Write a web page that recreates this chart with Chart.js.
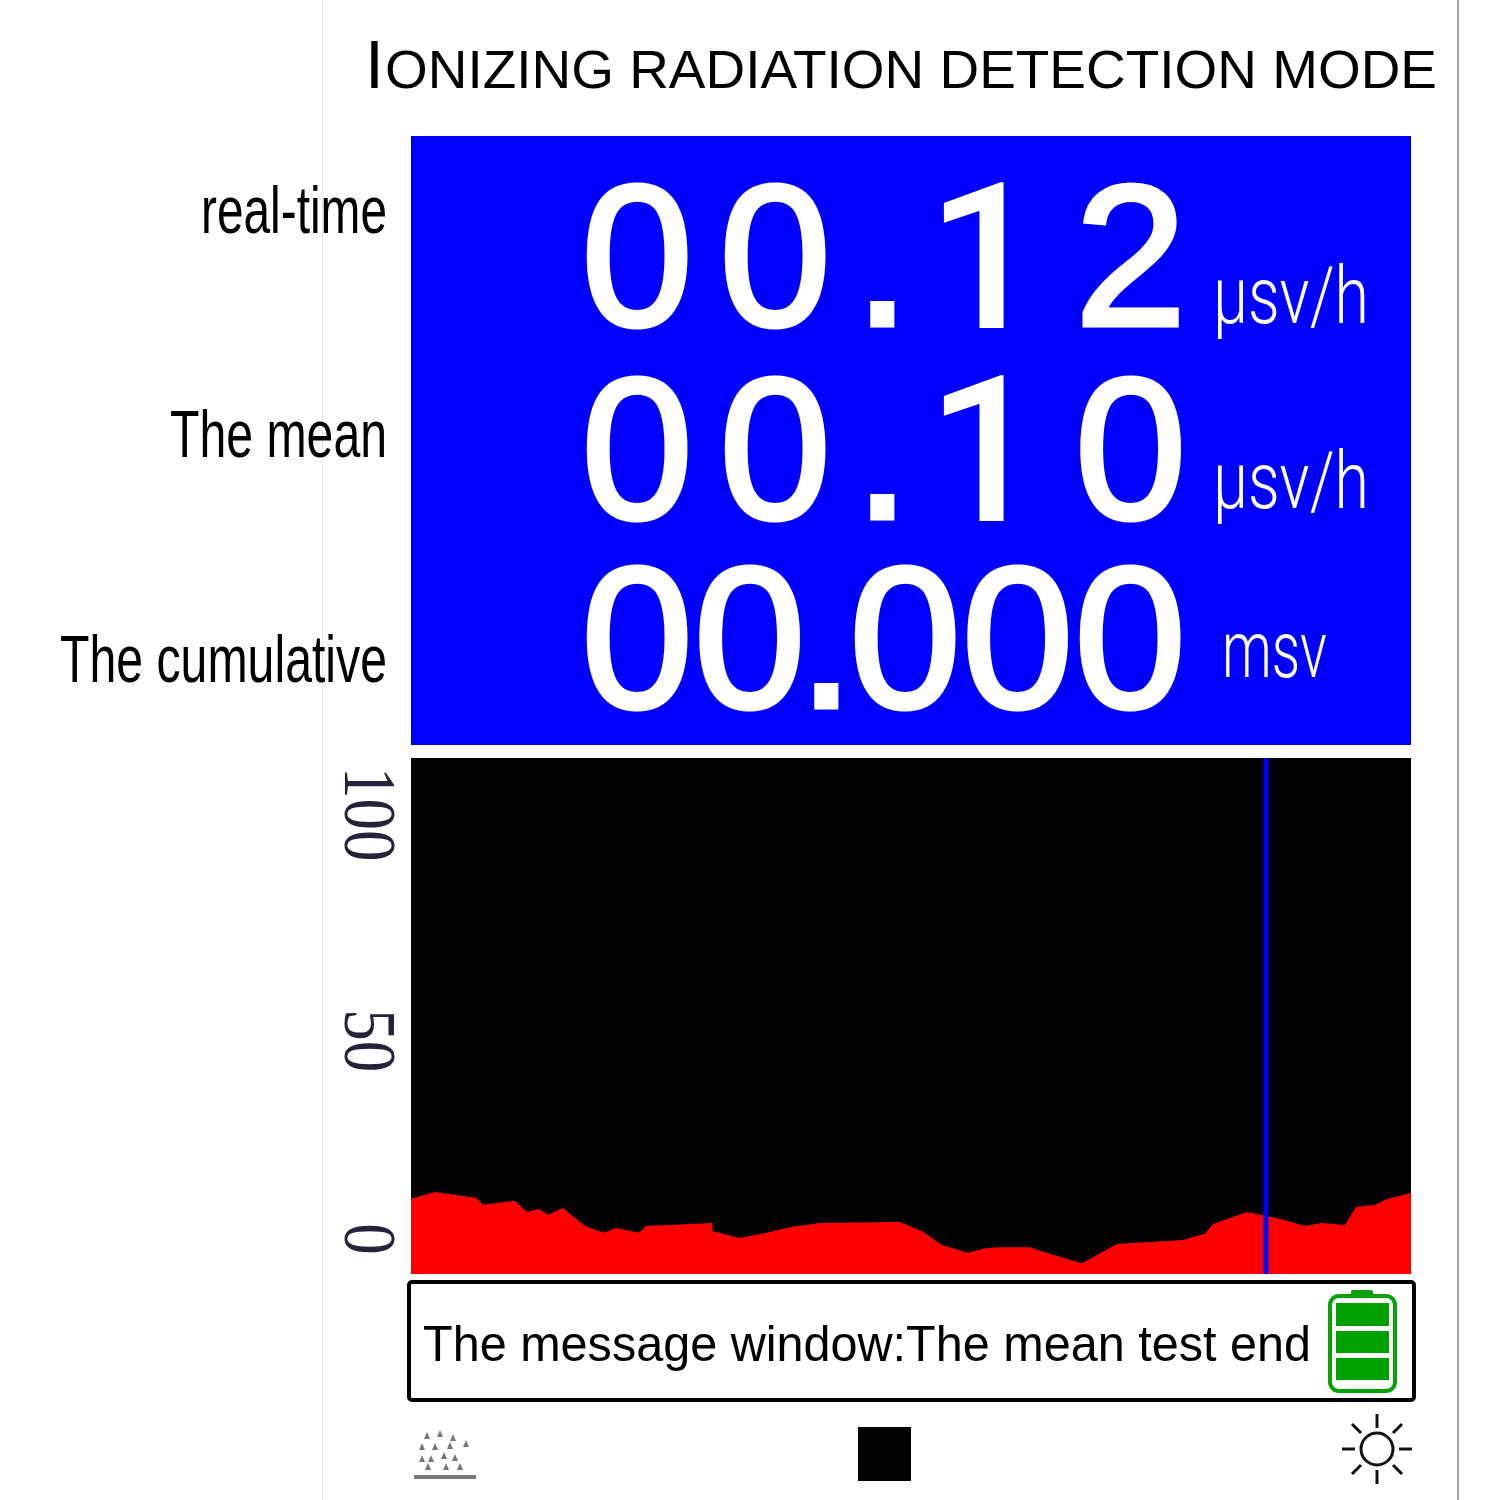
<!DOCTYPE html>
<html>
<head>
<meta charset="utf-8">
<title>Ionizing radiation detection mode</title>
<script src="https://cdn.jsdelivr.net/npm/chart.js@4"></script>
<style>
  html, body { margin: 0; padding: 0; background: #fff; }
  #page { position: relative; width: 1500px; height: 1500px; overflow: hidden; font-family: "Liberation Sans", sans-serif; }
  #page > * { position: absolute; }
  .txt { white-space: pre; line-height: 0; transform-origin: 0 0; }
  .big { -webkit-text-stroke: 5px #fff; }
  /* the digit 1 in Liberation has a foot, the display's does not */
  .one { font: 500 204px "Roboto"; line-height: 0; -webkit-text-stroke: 0; position: relative; top: 3px; margin-left: -10px; letter-spacing: 32px; }
  .dot { margin-left: -3px; }
  .dotTight { margin-left: -8px; letter-spacing: -4.6px; }
  #ruleL { left: 322px; top: 0; width: 1px; height: 1500px; background: #e6e6e6; }
  #ruleR { left: 1457px; top: 0; width: 2px; height: 1500px; background: #a8a8a8; }
  #panel { left: 411px; top: 136px; width: 1000px; height: 609px; background: #0000ff; }
  #msgbox { left: 407px; top: 1280px; width: 1001px; height: 114px; border: 4px solid #000; border-radius: 5px; background: #fff; }
  #stop { left: 858px; top: 1427px; width: 53px; height: 54px; background: #000; }
  #chart { left: 0; top: 0; }
  svg { left: 0; top: 0; }
</style>
</head>
<body>
<div id="page">
  <div id="ruleL"></div>
  <div id="ruleR"></div>
  <div id="panel"></div>
  <div id="msgbox"></div>
  <div id="stop"></div>
  <canvas id="chart" width="1500" height="1500"></canvas>
  <svg width="1500" height="1500" viewBox="0 0 1500 1500">
    <!-- battery -->
    <rect x="1330" y="1296" width="65" height="95" rx="9" fill="none" stroke="#0aa00a" stroke-width="4"/>
    <rect x="1351" y="1290" width="22" height="6" rx="2" fill="#0aa00a"/>
    <rect x="1336" y="1303" width="53" height="23" fill="#00a000"/>
    <rect x="1336" y="1331" width="53" height="22" fill="#00a000"/>
    <rect x="1336" y="1358" width="53" height="22" fill="#00a000"/>
    <!-- sun -->
    <g stroke="#111" stroke-width="3" fill="none" stroke-linecap="butt">
      <circle cx="1377" cy="1449" r="16"/>
      <path d="M1377 1414V1428M1377 1470V1484M1342 1449H1355M1399 1449H1412"/>
      <path d="M1352 1424L1361 1433M1393 1465L1402 1474M1402 1424L1393 1433M1361 1465L1352 1474"/>
    </g>
    <!-- particles -->
    <rect x="414" y="1475" width="62" height="4" fill="#777"/>
    <g fill="#777" id="drops"></g>
  </svg>
</div>
<script>
const titleHead = "I";
const titleRest = "ONIZING RADIATION DETECTION MODE";
const readingLabels = ["real-time", "The mean", "The cumulative"];
const readingValues = ["00.12", "00.10", "00.000"];
const readingUnits = ["\u00b5sv/h", "\u00b5sv/h", "msv"];
const messageText = "The message window:The mean test end";

// trace of the dose rate, x is the sweep position
const traceX = [0, 24, 52, 65, 72, 104, 116, 128, 137, 152, 174, 193, 205, 228, 235, 301, 302, 328, 356, 379, 409, 489,
  511, 531, 557, 574, 589, 619, 632, 671, 706, 772, 794, 802, 836, 869, 894, 911, 934, 945, 964, 977, 1000];
const traceY = [14.6, 15.9, 15.1, 14.8, 13.4, 14.2, 12.0, 12.6, 11.5, 12.8, 9.3, 8.0, 8.9, 8.0, 9.3, 9.9, 8.3, 7.0, 8.0, 9.1, 9.9, 10.1,
  8.3, 5.6, 4.1, 5.0, 5.2, 5.2, 4.3, 2.1, 5.8, 6.6, 7.8, 9.7, 12.0, 10.7, 9.3, 9.9, 9.5, 13.0, 13.4, 14.6, 15.7];
const cursorX = [855, 855];
const cursorY = [0, 100];
// the printed labels do not sit on their true values in the picture
const yTickPos = [6.8, 45.2, 89.1];
const yTickLabels = ["0", "50", "100"];

const page = document.getElementById("page");
// line-height 0 puts the baseline this far under the top, per font
const baseShift = { "Liberation Sans": 0.3465, "Roboto": 0.3555 };

// x is the left edge (or right edge if right is set), base is the baseline, width squeezes the text to fit
function addText(text, o) {
  const family = o.family || "Liberation Sans";
  const el = document.createElement("div");
  el.className = "txt";
  el.textContent = text;
  el.style.font = (o.weight || "normal") + " " + o.size + "px '" + family + "'";
  el.style.lineHeight = "0";
  el.style.color = o.color || "#000";
  if (o.spacing) el.style.letterSpacing = o.spacing + "px";
  el.style.top = (o.base - baseShift[family] * o.size) + "px";
  page.appendChild(el);
  const natural = el.getBoundingClientRect().width;
  const sx = o.width ? o.width / natural : 1;
  el.style.left = (o.right ? o.right - natural * sx : o.x) + "px";
  el.style.transform = "scaleX(" + sx + ")";
  return el;
}

addText(titleHead, { x: 365, base: 88, size: 68 });
addText(titleRest, { x: 385, base: 88, size: 53, width: 1052 });

const labelBase = [233, 457, 682];
const labelWidth = [186, 217, 327];
readingLabels.forEach((t, i) => addText(t, { right: 387, base: labelBase[i], size: 67, width: labelWidth[i] }));

// rows holding a Roboto 1 sit about 3px lower, so they start higher
const valueBase = [325, 518, 707];
const valueSpacing = [26.8, 26.8, 1.3];
const dotClass = ["dot", "dot", "dotTight"];
readingValues.forEach((t, i) => {
  const el = addText(t, { x: 581.5, base: valueBase[i], size: 200, color: "#fff", spacing: valueSpacing[i] });
  el.classList.add("big");
  el.innerHTML = t.replace(".", '<span class="' + dotClass[i] + '">.</span>').replace("1", '<span class="one">1</span>');
});

const unitBase = [324, 509, 678];
const unitLeft = [1213, 1213, 1222];
const unitWidth = [156, 156, 105];
readingUnits.forEach((t, i) => addText(t, {
  x: unitLeft[i], base: unitBase[i], size: 80, weight: "300", family: "Roboto", color: "#fff", width: unitWidth[i]
}));

addText(messageText, { x: 423, base: 1361, size: 50, width: 888 });

// little triangles of the particle icon
const drops = document.getElementById("drops");
[[427, 1436], [440, 1434], [453, 1438], [422, 1447], [435, 1447], [450, 1446], [466, 1444],
 [422, 1459], [431, 1459], [444, 1456], [455, 1458], [428, 1467], [446, 1467], [460, 1467]].forEach(p => {
  const t = document.createElementNS("http://www.w3.org/2000/svg", "path");
  t.setAttribute("d", `M${p[0]} ${p[1] - 4}l3 7h-6z`);
  drops.appendChild(t);
});

// black screen behind the trace
const screenBg = {
  id: "screenBg",
  beforeDatasetsDraw(chart) {
    const a = chart.chartArea;
    chart.ctx.save();
    chart.ctx.fillStyle = "#000";
    chart.ctx.fillRect(a.left, a.top, a.width, a.height);
    chart.ctx.restore();
  }
};

// tick labels run downwards and are squeezed along the text
const sidewaysTicks = {
  id: "sidewaysTicks",
  afterDraw(chart) {
    const y = chart.scales.y;
    const ctx = chart.ctx;
    y.ticks.forEach((tick, i) => {
      ctx.save();
      ctx.translate(345, y.getPixelForTick(i));
      ctx.rotate(Math.PI / 2);
      ctx.scale(0.84, 1);
      ctx.font = "75px 'Liberation Serif'";
      ctx.fillStyle = "#23233a";
      ctx.textAlign = "center";
      ctx.textBaseline = "alphabetic";
      ctx.fillText(tick.label, 0, 0);
      ctx.restore();
    });
  }
};

new Chart(document.getElementById("chart").getContext("2d"), {
  type: "line",
  data: {
    datasets: [
      {
        label: "cursor",
        data: cursorX.map((x, i) => ({ x: x, y: cursorY[i] })),
        borderColor: "#0000ff",
        borderWidth: 5,
        pointRadius: 0,
        order: 0
      },
      {
        label: "dose rate",
        data: traceX.map((x, i) => ({ x: x, y: traceY[i] })),
        borderWidth: 0,
        pointRadius: 0,
        tension: 0,
        fill: "origin",
        backgroundColor: "#ff0000",
        order: 1
      }
    ]
  },
  options: {
    responsive: false,
    devicePixelRatio: 1,
    animation: false,
    layout: { padding: { left: 411, right: 89, top: 758, bottom: 226 } },
    plugins: { legend: { display: false }, tooltip: { enabled: false } },
    scales: {
      x: {
        type: "linear", min: 0, max: 1000,
        grid: { display: false, drawTicks: false }, border: { display: false }, ticks: { display: false }
      },
      y: {
        min: 0, max: 100,
        grid: { display: false, drawTicks: false }, border: { display: false },
        ticks: { display: false, callback: (v, i) => yTickLabels[i] },
        afterBuildTicks(scale) { scale.ticks = yTickPos.map(v => ({ value: v })); }
      }
    }
  },
  plugins: [screenBg, sidewaysTicks]
});
</script>
</body>
</html>
